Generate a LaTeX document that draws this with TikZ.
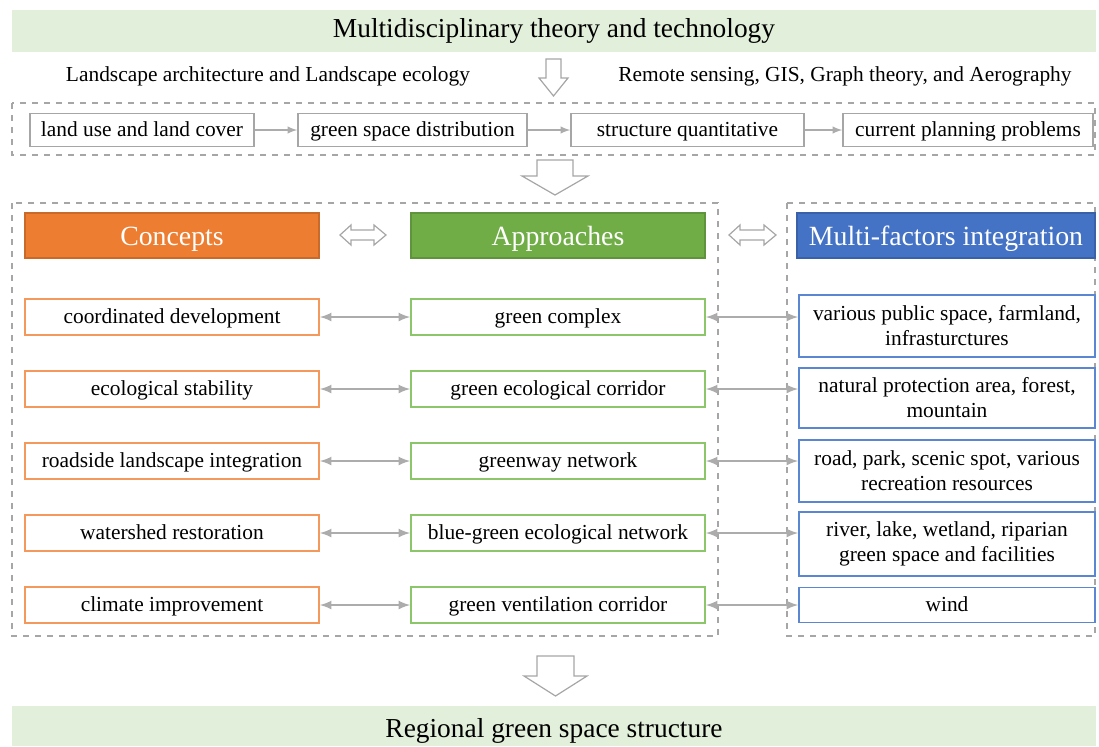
\documentclass[tikz,border=0pt]{standalone}
\usepackage{fontspec}
\setmainfont{Liberation Serif}
\usepackage{tikz}
\usepackage{xcolor}
\usetikzlibrary{positioning, arrows}

\definecolor{bandgreen}{HTML}{E2EFDA}
\definecolor{conorange}{HTML}{ED7D31}
\definecolor{conline}{HTML}{F4995B}
\definecolor{appgreen}{HTML}{70AD47}
\definecolor{appline}{HTML}{8CC66A}
\definecolor{facblue}{HTML}{4472C4}
\definecolor{facline}{HTML}{5B87D2}
\definecolor{frame}{HTML}{A6A6A6}

\tikzset{
  band/.style={fill=bandgreen, draw=none, text height=0.7em, text depth=0.02em, font=\fontsize{13.7}{16}\selectfont},
  flowbox/.style={draw=frame, line width=0.7pt, minimum height=16.5pt, text height=0.7em, text depth=0.02em, font=\fontsize{10.7}{12}\selectfont},
  head/.style={line width=0.7pt, minimum width=147pt, minimum height=22.5pt, text=white, text height=9.5pt, text depth=0pt, font=\fontsize{13.9}{16}\selectfont},
  conbox/.style={draw=conline, line width=0.8pt, minimum width=147pt, minimum height=18pt, text height=0.7em, text depth=0.02em, font=\fontsize{10.7}{12}\selectfont},
  appbox/.style={draw=appline, line width=0.8pt, minimum width=147pt, minimum height=18pt, text height=0.7em, text depth=0.02em, font=\fontsize{10.7}{12}\selectfont},
  facbox/.style={draw=facline, line width=0.8pt, minimum width=148pt, align=center, font=\fontsize{10.7}{12.5}\selectfont},
  subtitle/.style={text height=0.7em, text depth=0.02em, font=\fontsize{10.7}{12}\selectfont},
  link/.style={draw=gray!65, line width=1pt, latex-latex},
  flow/.style={draw=gray!65, line width=0.7pt, -latex},
  hollow/.style={draw=frame, line width=0.6pt, fill=white},
  frameline/.style={draw=frame, line width=0.7pt, dashed}
}

\begin{document}
\begin{tikzpicture}[x=0.5pt, y=-0.5pt]
\useasboundingbox (0,0) rectangle (1099,746);

% top band
\node[band, minimum width=542pt, minimum height=21pt] (theory) at (554,31) {Multidisciplinary theory and technology};
\node[subtitle] (landsc) at (268,75) {Landscape architecture and Landscape ecology};
\node[subtitle] (remote) at (845,75) {Remote sensing, GIS, Graph theory, and Aerography};
\draw[hollow] (546,59) -- (561,59) -- (561,78) -- (568,78) -- (553.5,96) -- (539,78) -- (546,78) -- cycle;

% analysis row
\draw[frameline] (12,103) rectangle (1095,155);
\node[flowbox, minimum width=112pt] (lulc) at (142,130) {land use and land cover};
\node[flowbox, minimum width=114.5pt] (gsd) at (412.5,130) {green space distribution};
\node[flowbox, minimum width=116.5pt] (sq) at (687.5,130) {structure quantitative};
\node[flowbox, minimum width=125pt] (cpp) at (968,130) {current planning problems};
\draw[flow] (lulc) -- (gsd);
\draw[flow] (gsd) -- (sq);
\draw[flow] (sq) -- (cpp);

\draw[hollow] (537,160) -- (573,160) -- (573,176) -- (588,176) -- (555,195) -- (522,176) -- (537,176) -- cycle;

% three columns
\draw[frameline] (12,203) rectangle (718,636);
\draw[frameline] (787,203) rectangle (1095,636);

\node[head, fill=conorange, draw=conorange!85!black] (concepts) at (172,235.5) {Concepts};
\node[head, fill=appgreen, draw=appgreen!85!black] (approach) at (558,235.5) {Approaches};
\node[head, fill=facblue, draw=facblue!85!black, minimum width=149pt] (factors) at (946,235.5) {Multi-factors integration};

\draw[hollow] (340,235) -- (351,225) -- (351,230) -- (374,230) -- (374,225) -- (386,235) -- (374,245) -- (374,240) -- (351,240) -- (351,245) -- cycle;
\draw[hollow] (729,235) -- (740,225) -- (740,230) -- (764,230) -- (764,225) -- (776,235) -- (764,245) -- (764,240) -- (740,240) -- (740,245) -- cycle;

% rows
\node[conbox] (c1) at (172,317) {coordinated development};
\node[appbox] (a1) at (558,317) {green complex};
\node[facbox, minimum height=31pt] (f1) at (947,326) {various public space, farmland,\\infrasturctures};

\node[conbox] (c2) at (172,389) {ecological stability};
\node[appbox] (a2) at (558,389) {green ecological corridor};
\node[facbox, minimum height=30pt] (f2) at (947,398) {natural protection area, forest,\\mountain};

\node[conbox] (c3) at (172,461) {roadside landscape integration};
\node[appbox] (a3) at (558,461) {greenway network};
\node[facbox, minimum height=31pt] (f3) at (947,471) {road, park, scenic spot, various\\recreation resources};

\node[conbox] (c4) at (172,533) {watershed restoration};
\node[appbox] (a4) at (558,533) {blue-green ecological network};
\node[facbox, minimum height=32pt] (f4) at (947,544) {river, lake, wetland, riparian\\green space and facilities};

\node[conbox] (c5) at (172,605) {climate improvement};
\node[appbox] (a5) at (558,605) {green ventilation corridor};
\node[facbox, minimum height=17.5pt, text height=0.7em, text depth=0.02em] (f5) at (947,605) {wind};

\foreach \i in {1,...,5}{
  \draw[link] (c\i.east) -- (a\i.west);
  \draw[link] (a\i.east) -- (a\i.east -| f\i.west);
}

% result
\draw[hollow] (537,656) -- (574,656) -- (574,676) -- (587,676) -- (555.5,696) -- (524,676) -- (537,676) -- cycle;
\fill[bandgreen] (12,706) rectangle (1096,746);
\node[band, fill=none] (result) at (554,731) {Regional green space structure};

\end{tikzpicture}
\end{document}
